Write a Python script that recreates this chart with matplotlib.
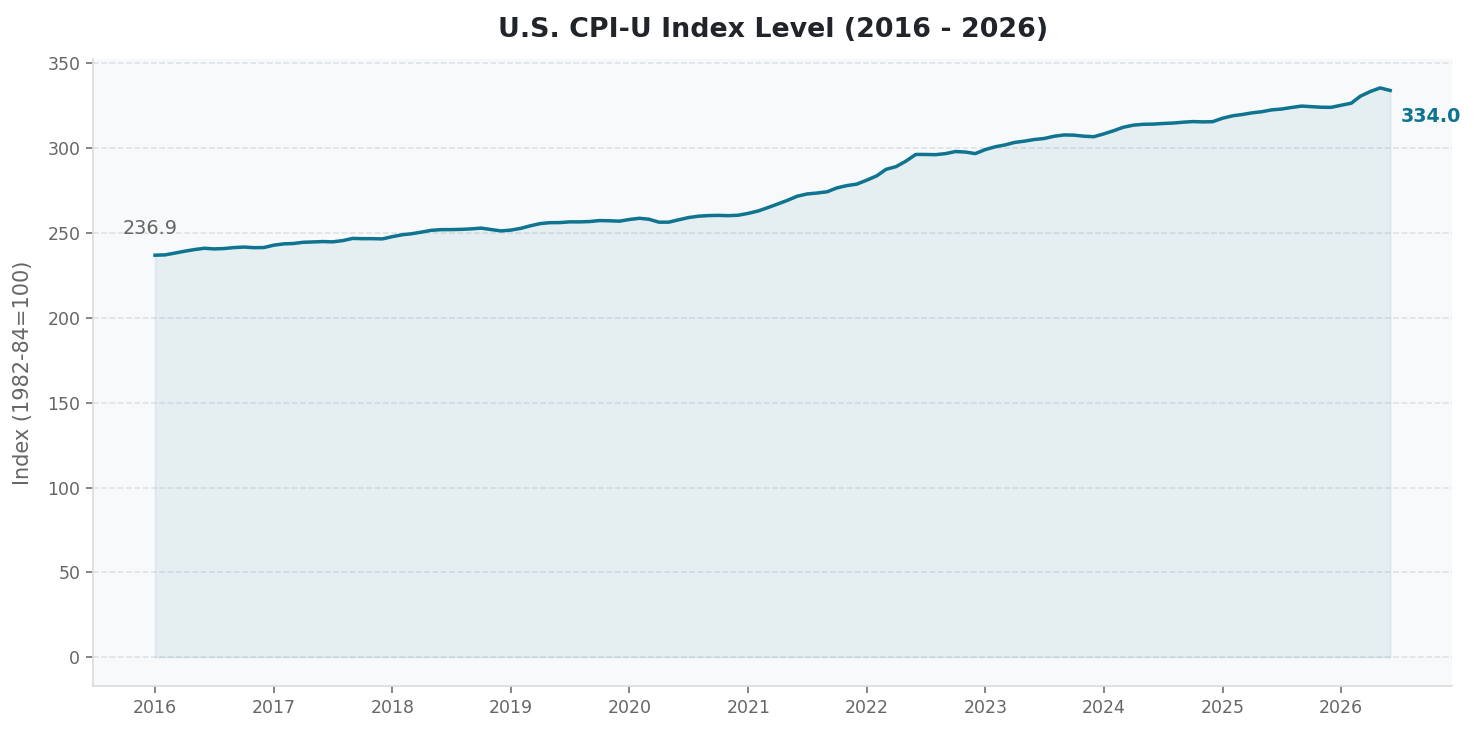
import matplotlib
matplotlib.use("Agg")
import matplotlib.pyplot as plt
import matplotlib.dates as mdates
import pandas as pd
import numpy as np

# ---- data (CPI-U, monthly, 1982-84=100) ----
cpi_2016 = [236.916, 237.111, 238.132, 239.261, 240.229, 241.018, 240.628, 240.849, 241.428, 241.729, 241.353, 241.432]
cpi_2017 = [242.839, 243.603, 243.801, 244.524, 244.733, 244.955, 244.786, 245.519, 246.819, 246.663, 246.669, 246.524]
cpi_2018 = [247.867, 248.991, 249.554, 250.546, 251.588, 251.989, 252.006, 252.146, 252.439, 252.885, 252.038, 251.233]
cpi_2019 = [251.712, 252.776, 254.202, 255.548, 256.092, 256.143, 256.571, 256.558, 256.759, 257.346, 257.208, 256.974]
cpi_2020 = [257.971, 258.678, 258.115, 256.389, 256.394, 257.797, 259.101, 259.918, 260.280, 260.388, 260.229, 260.474]
cpi_2021 = [261.582, 263.014, 264.877, 267.054, 269.195, 271.696, 273.003, 273.567, 274.310, 276.589, 277.948, 278.802]
cpi_2022 = [281.148, 283.716, 287.504, 289.109, 292.296, 296.311, 296.276, 296.171, 296.808, 298.012, 297.711, 296.797]
cpi_2023 = [299.170, 300.840, 301.836, 303.363, 304.127, 305.109, 305.691, 307.026, 307.789, 307.671, 307.051, 306.746]
cpi_2024 = [308.417, 310.326, 312.332, 313.548, 314.069, 314.175, 314.540, 314.796, 315.301, 315.664, 315.493, 315.605]
cpi_2025 = [317.671, 319.082, 319.799, 320.795, 321.465, 322.561, 323.048, 323.976, 324.800, 324.122, 324.054]
cpi_2026 = [325.3, 326.5, 330.6, 333.4, 335.5, 334.0]
missing_months = ["2025-10-01"]

values = (cpi_2016 + cpi_2017 + cpi_2018 + cpi_2019 + cpi_2020 + cpi_2021 +
          cpi_2022 + cpi_2023 + cpi_2024 + cpi_2025 + cpi_2026)
dates = pd.date_range("2016-01-01", "2026-06-01", freq="MS")
dates = dates[~dates.isin(pd.to_datetime(missing_months))]
values = np.array(values)

title = "U.S. CPI-U Index Level (2016 - 2026)"
ylabel = "Index (1982-84=100)"
yticks = [0, 50, 100, 150, 200, 250, 300, 350]

LINE = "#0e7490"
GRAY = "#666666"

plt.rcParams["font.family"] = ["DejaVu Sans"]
fig = plt.figure(figsize=(11.808, 5.88), dpi=125)
ax = fig.add_axes([0.0632, 0.0671, 0.9205, 0.852])
ax.set_facecolor("#f8f9fa")

ax.fill_between(dates, values, 0, color=LINE, alpha=0.08, linewidth=1)
ax.plot(dates, values, color=LINE, linewidth=2.0, zorder=3)

ax.set_yticks(yticks)
ax.xaxis.set_major_locator(mdates.YearLocator())
ax.xaxis.set_major_formatter(mdates.DateFormatter("%Y"))

ax.grid(axis="y", linestyle="--", color="#dee1e3", linewidth=0.9)
ax.grid(axis="x", visible=False)
ax.set_axisbelow(True)

for s in ["top", "right"]:
    ax.spines[s].set_visible(False)
for s in ["left", "bottom"]:
    ax.spines[s].set_color("#dddddd")
    ax.spines[s].set_linewidth(1.0)

ax.tick_params(axis="both", colors=GRAY, labelsize=10, length=4, width=0.9)
ax.set_ylabel(ylabel, fontsize=12, color=GRAY, labelpad=8)
ax.set_title(title, fontsize=15.5, fontweight="bold", color="#212529", pad=13)

ax.annotate(f"{values[0]:.1f}", xy=(dates[0], values[0]), xytext=(-3, 10),
            textcoords="offset points", ha="center", va="bottom",
            fontsize=11, color=GRAY)
ax.annotate(f"{values[-1]:.1f}", xy=(dates[-1], values[-1]), xytext=(6, -15),
            textcoords="offset points", ha="left", va="center",
            fontsize=11, color=LINE, fontweight="bold")

fig.savefig("out.png", dpi=125)
